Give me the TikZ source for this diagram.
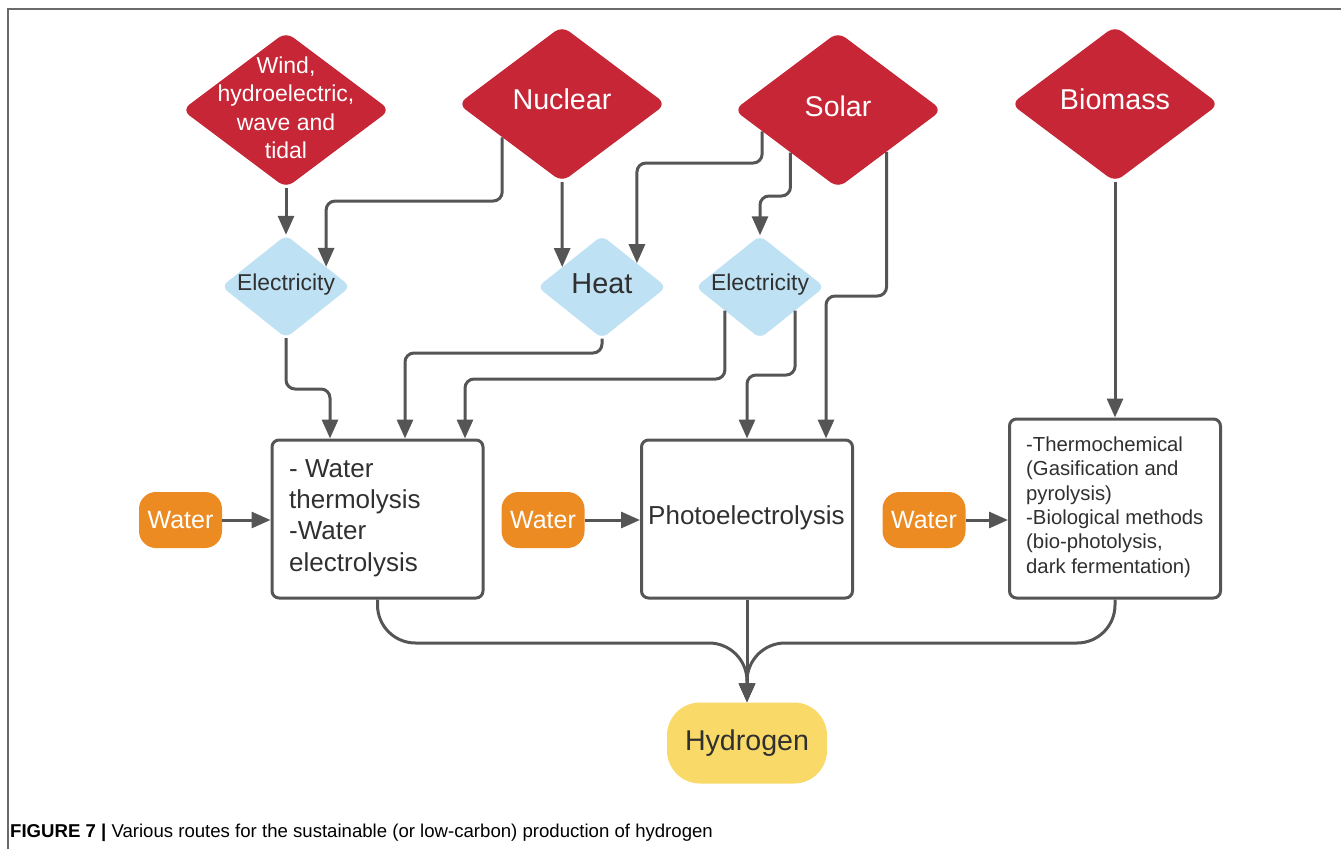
\documentclass[tikz,border=0pt]{standalone}
\usepackage{fontspec}
\setmainfont{Liberation Sans}
\usetikzlibrary{shapes.geometric,arrows.meta,calc}
\definecolor{redsrc}{HTML}{C62636}
\definecolor{bluemid}{HTML}{BFE1F4}
\definecolor{orangew}{HTML}{EC8B22}
\definecolor{yellowh}{HTML}{F9D968}
\definecolor{linegray}{HTML}{555555}
\definecolor{txtdark}{HTML}{303030}
\definecolor{framegray}{HTML}{6A6A6A}
\begin{document}
\begin{tikzpicture}[x=1pt,y=-1pt,
  srcbox/.style={diamond, fill=redsrc, draw=none, minimum width=208pt, minimum height=156pt, inner sep=0pt, rounded corners=9pt},
  srctext/.style={text=white, align=center, inner sep=0pt},
  midbox/.style={diamond, fill=bluemid, draw=none, minimum width=129pt, minimum height=103pt, inner sep=0pt, rounded corners=7pt},
  midtext/.style={text=txtdark, align=center, inner sep=0pt},
  procbox/.style={rectangle, draw=linegray, line width=3pt, fill=white, rounded corners=7pt, minimum width=211pt, inner sep=0pt},
  waterbox/.style={rectangle, fill=orangew, draw=none, rounded corners=17pt, minimum width=83pt, minimum height=56pt, inner sep=0pt, text=white, font=\fontsize{25}{30}\selectfont},
  hydbox/.style={rectangle, fill=yellowh, draw=none, rounded corners=33pt, minimum width=160pt, minimum height=81pt, inner sep=0pt, text=txtdark, font=\fontsize{28.6}{34}\selectfont},
  arr/.style={draw=linegray, line width=3pt, -{Triangle[length=19pt,width=16pt]}, rounded corners=9pt},
]
\useasboundingbox (0,0) rectangle (1341,849);
% frame
\draw[framegray, line width=1.6pt] (8,849) -- (8,9) -- (1341,9);

% sources
\node[srcbox] (wind) at (286,110) {};
\node[srcbox] (nuc) at (562,104) {};
\node[srcbox] (solar) at (838,110) {};
\node[srcbox] (bio) at (1115,104) {};
\node[srctext, font=\fontsize{23}{28.5}\selectfont] (windt) at (286,108) {Wind,\\hydroelectric,\\wave and\\tidal};
\node[srctext, font=\fontsize{28.7}{34}\selectfont] (nuct) at (562,99) {Nuclear};
\node[srctext, font=\fontsize{28.5}{34}\selectfont] (solart) at (838,106) {Solar};
\node[srctext, font=\fontsize{28.7}{34}\selectfont] (biot) at (1115,99) {Biomass};

% intermediates
\node[midbox] (e1) at (286,286.5) {};
\node[midbox] (heat) at (602,287) {};
\node[midbox] (e2) at (760,287) {};
\node[midtext, font=\fontsize{22.9}{28}\selectfont] (e1t) at (286,285) {Electricity};
\node[midtext, font=\fontsize{28.9}{34}\selectfont] (heatt) at (602,284) {Heat};
\node[midtext, font=\fontsize{22.9}{28}\selectfont] (e2t) at (760,285) {Electricity};

% process boxes
\node[procbox, minimum height=158pt] (box1) at (377.5,519) {};
\node[procbox, minimum height=158pt] (box2) at (747,519) {};
\node[procbox, minimum height=179pt] (box3) at (1115,508.5) {};
\node[anchor=west, align=left, text=txtdark, inner sep=0pt, font=\fontsize{26}{31.2}\selectfont] (box1t) at (289,518) {- Water\\thermolysis\\-Water\\electrolysis};
\node[text=txtdark, inner sep=0pt, font=\fontsize{26}{31}\selectfont] (box2t) at (746.5,518) {Photoelectrolysis};
\node[anchor=west, align=left, text=txtdark, inner sep=0pt, font=\fontsize{20.3}{24.4}\selectfont] (box3t) at (1026,507) {-Thermochemical\\(Gasification and\\pyrolysis)\\-Biological methods\\(bio-photolysis,\\dark fermentation)};

% water
\node[waterbox] (w1) at (180.5,520) {Water};
\node[waterbox] (w2) at (543,520) {Water};
\node[waterbox] (w3) at (924,520) {Water};

% hydrogen
\node[hydbox] (hyd) at (747,743) {Hydrogen};

% connectors sources -> intermediates
\draw[arr] (wind.south) -- (e1.north);
\coordinate (nucA) at ($(nuc.west)!0.426!(nuc.south)$);
\coordinate (e1B) at ($(e1.north)!0.62!(e1.east)$);
\draw[arr] (nucA) -- (nucA |- 0,201) -| (e1B);
\coordinate (heatA) at ($(heat.north)!0.615!(heat.west)$);
\draw[arr] (nuc.south) -- (heatA);
\coordinate (solA) at ($(solar.west)!0.272!(solar.south)$);
\coordinate (heatB) at ($(heat.north)!0.54!(heat.east)$);
\draw[arr] (solA) -- (solA |- 0,163) -| (heatB);
\coordinate (solB) at ($(solar.west)!0.544!(solar.south)$);
\draw[arr] (solB) -- (solB |- 0,196) -| (e2.north);
\coordinate (solC) at ($(solar.south)!0.466!(solar.east)$);
\draw[arr] (solC) -- (solC |- 0,296) -| ([xshift=79pt]box2.north);

% intermediates -> boxes
\draw[arr] (e1.south) -- (e1.south |- 0,389) -| ([xshift=-47.5pt]box1.north);
\draw[arr] (heat.south) -- (heat.south |- 0,353) -| ([xshift=27.5pt]box1.north);
\coordinate (e2A) at ($(e2.west)!0.457!(e2.south)$);
\draw[arr] (e2A) -- (e2A |- 0,379) -| ([xshift=87.5pt]box1.north);
\coordinate (e2B) at ($(e2.south)!0.543!(e2.east)$);
\draw[arr] (e2B) -- (e2B |- 0,375) -| (box2.north);
\draw[arr] (bio.south) -- (box3.north);

% water -> boxes
\draw[arr] (w1.east) -- (box1.west |- w1.east);
\draw[arr] (w2.east) -- (box2.west |- w2.east);
\draw[arr] (w3.east) -- (box3.west |- w3.east);

% merge to hydrogen
\draw[arr, rounded corners=38pt] (box1.south) -- (box1.south |- 0,643) -- (747,643) -- (hyd.north);
\draw[arr, rounded corners=38pt] (box3.south) -- (box3.south |- 0,643) -- (747,643) -- (hyd.north);
\draw[arr] (box2.south) -- (hyd.north);

% caption
\node[anchor=west, inner sep=0pt, text=black, font=\fontsize{18.6}{22}\selectfont] (cap) at (10,833) {\textbf{FIGURE 7 |} Various routes for the sustainable (or low-carbon) production of hydrogen};
\end{tikzpicture}
\end{document}
